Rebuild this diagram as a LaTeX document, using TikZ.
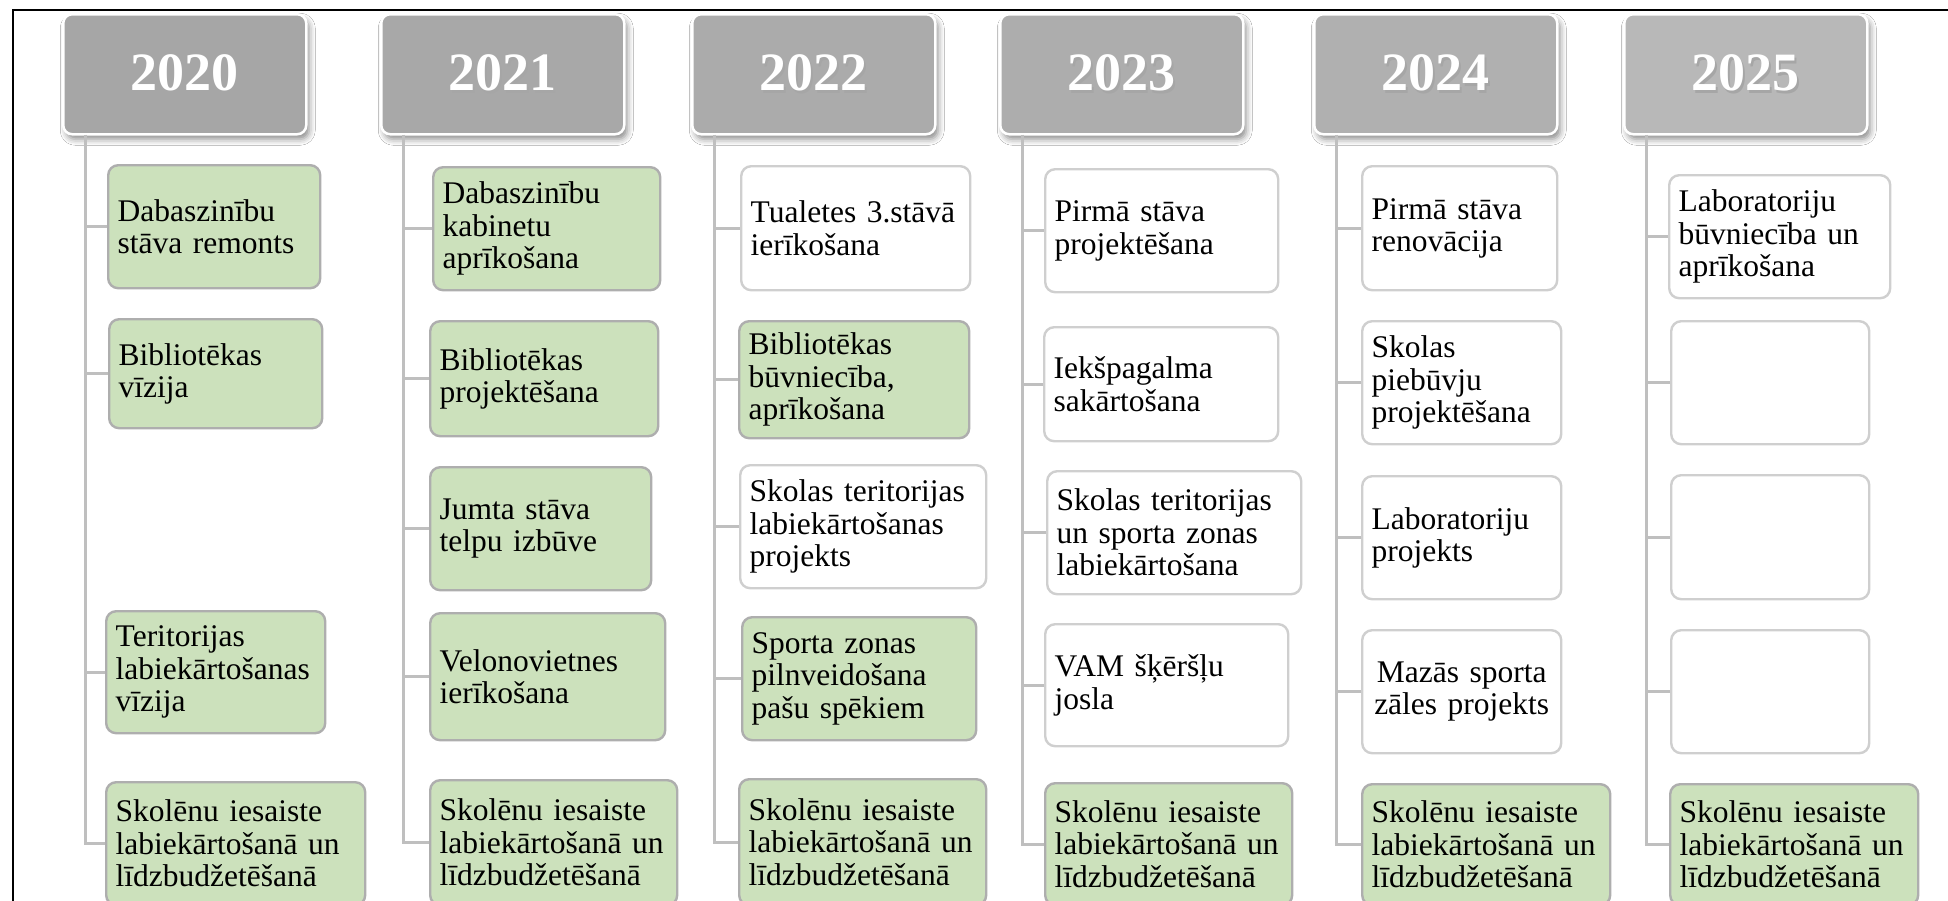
\documentclass[tikz,border=0pt]{standalone}
\usepackage{fontspec}
\setmainfont{Liberation Serif}
\usetikzlibrary{shadows.blur}
\definecolor{boxgreen}{HTML}{CCE1BC}
\definecolor{greenline}{HTML}{AEAEAE}
\definecolor{whiteline}{HTML}{CFCFCF}
\definecolor{connc}{HTML}{BFBFBF}
\newcommand{\yr}[1]{\makebox[0pt][l]{\hspace{2pt}\raisebox{-2.5pt}{\textcolor{black!35}{#1}}}#1}
\newcommand{\tlbox}[7]{%
  \pgfmathsetmacro{\bw}{#5-#3}\pgfmathsetmacro{\bh}{#6-#4}\pgfmathsetmacro{\tw}{#5-#3-19}%
  \node[#2, minimum width=\bw pt, minimum height=\bh pt, text width=\tw pt, anchor=north west] (#1) at (#3,#4) {#7};}
\tikzset{
  basebox/.style={rounded corners=10pt, line width=2.4pt, inner xsep=9.5pt, inner ysep=2pt,
    align=left, font=\fontsize{31.5}{32.5}\selectfont},
  gbox/.style={basebox, fill=boxgreen, draw=greenline},
  wbox/.style={basebox, fill=white, draw=whiteline},
  hdr/.style={rounded corners=9pt, draw=white, line width=2.5pt, minimum width=243pt, minimum height=120pt,
    anchor=north west, text=white, font=\fontsize{54}{60}\selectfont\bfseries,
    blur shadow={shadow xshift=3pt, shadow yshift=-5pt, shadow blur radius=6pt, shadow opacity=45}},
  conn/.style={draw=connc, line width=3pt},
  frame/.style={draw=black, line width=2pt}
}
\begin{document}
\begin{tikzpicture}[x=1pt,y=-1pt]
\useasboundingbox (0,0) rectangle (1948,900);
\clip (0,0) rectangle (1948,900);
\fill[white] (0,0) rectangle (1948,900);
\draw[frame] (13,905) -- (13,10) -- (1950,10);

% headers
\node[hdr, fill=black!35] (h1) at (62,13) {\yr{2020}};
\node[hdr, fill=black!34] (h2) at (380,13) {\yr{2021}};
\node[hdr, fill=black!33] (h3) at (691,13) {\yr{2022}};
\node[hdr, fill=black!32] (h4) at (999,13) {\yr{2023}};
\node[hdr, fill=black!31] (h5) at (1313,13) {\yr{2024}};
\node[hdr, fill=black!28] (h6) at (1623,13) {\yr{2025}};

\foreach \i in {1,...,6}{\coordinate (t\i) at ([xshift=23pt,yshift=1pt]h\i.south west);}

% 2020
\tlbox{b11}{gbox}{107}{164}{319}{287}{Dabaszinību\\stāva remonts}
\tlbox{b12}{gbox}{108}{318}{321}{427}{Bibliotēkas\\vīzija}
\tlbox{b13}{gbox}{105}{610}{324}{732}{Teritorijas\\labiekārtošanas\\vīzija}
\tlbox{b14}{gbox}{105}{781}{364}{904}{Skolēnu iesaiste\\labiekārtošanā un\\līdzbudžetēšanā}
% 2021
\tlbox{b21}{gbox}{432}{166}{659}{289}{Dabaszinību\\kabinetu\\aprīkošana}
\tlbox{b22}{gbox}{429}{320}{657}{435}{Bibliotēkas\\projektēšana}
\tlbox{b23}{gbox}{429}{466}{650}{589}{Jumta stāva\\telpu izbūve}
\tlbox{b24}{gbox}{429}{612}{664}{739}{Velonovietnes\\ierīkošana}
\tlbox{b25}{gbox}{429}{779}{676}{904}{Skolēnu iesaiste\\labiekārtošanā un\\līdzbudžetēšanā}
% 2022
\tlbox{b31}{wbox}{740}{165}{969}{289}{Tualetes 3.stāvā\\ierīkošana}
\tlbox{b32}{gbox}{738}{320}{968}{437}{Bibliotēkas\\būvniecība,\\aprīkošana}
\tlbox{b33}{wbox}{739}{464}{985}{587}{Skolas teritorijas\\labiekārtošanas\\projekts}
\tlbox{b34}{gbox}{741}{616}{975}{739}{Sporta zonas\\pilnveidošana\\pašu spēkiem}
\tlbox{b35}{gbox}{738}{778}{985}{904}{Skolēnu iesaiste\\labiekārtošanā un\\līdzbudžetēšanā}
% 2023
\tlbox{b41}{wbox}{1044}{168}{1277}{291}{Pirmā stāva\\projektēšana}
\tlbox{b42}{wbox}{1043}{326}{1277}{440}{Iekšpagalma\\sakārtošana}
\tlbox{b43}{wbox}{1046}{470}{1300}{593}{Skolas teritorijas\\un sporta zonas\\labiekārtošana}
\tlbox{b44}{wbox}{1044}{623}{1287}{745}{VAM šķēršļu\\josla}
\tlbox{b45}{gbox}{1044}{782}{1291}{904}{Skolēnu iesaiste\\labiekārtošanā un\\līdzbudžetēšanā}
% 2024
\tlbox{b51}{wbox}{1361}{165}{1556}{289}{Pirmā stāva\\renovācija}
\tlbox{b52}{wbox}{1361}{320}{1560}{443}{Skolas\\piebūvju\\projektēšana}
\tlbox{b53}{wbox}{1361}{475}{1560}{598}{Laboratoriju\\projekts}
\tlbox{b54}{wbox,align=center}{1361}{629}{1560}{752}{Mazās sporta\\zāles projekts}
\tlbox{b55}{gbox}{1361}{783}{1609}{904}{Skolēnu iesaiste\\labiekārtošanā un\\līdzbudžetēšanā}
% 2025
\tlbox{b61}{wbox}{1668}{174}{1889}{297}{Laboratoriju\\būvniecība un\\aprīkošana}
\tlbox{b62}{wbox}{1670}{320}{1868}{443}{}
\tlbox{b63}{wbox}{1670}{474}{1868}{598}{}
\tlbox{b64}{wbox}{1670}{629}{1868}{752}{}
\tlbox{b65}{gbox}{1669}{783}{1917}{904}{Skolēnu iesaiste\\labiekārtošanā un\\līdzbudžetēšanā}

% connectors
\draw[conn] (t1) |- (b14.west);
\foreach \b in {b11,b12,b13}{\draw[conn] (\b.west) -- (\b.west -| t1);}
\draw[conn] (t2) |- (b25.west);
\foreach \b in {b21,b22,b23,b24}{\draw[conn] (\b.west) -- (\b.west -| t2);}
\draw[conn] (t3) |- (b35.west);
\foreach \b in {b31,b32,b33,b34}{\draw[conn] (\b.west) -- (\b.west -| t3);}
\draw[conn] (t4) |- (b45.west);
\foreach \b in {b41,b42,b43,b44}{\draw[conn] (\b.west) -- (\b.west -| t4);}
\draw[conn] (t5) |- (b55.west);
\foreach \b in {b51,b52,b53,b54}{\draw[conn] (\b.west) -- (\b.west -| t5);}
\draw[conn] (t6) |- (b65.west);
\foreach \b in {b61,b62,b63,b64}{\draw[conn] (\b.west) -- (\b.west -| t6);}
\end{tikzpicture}
\end{document}
